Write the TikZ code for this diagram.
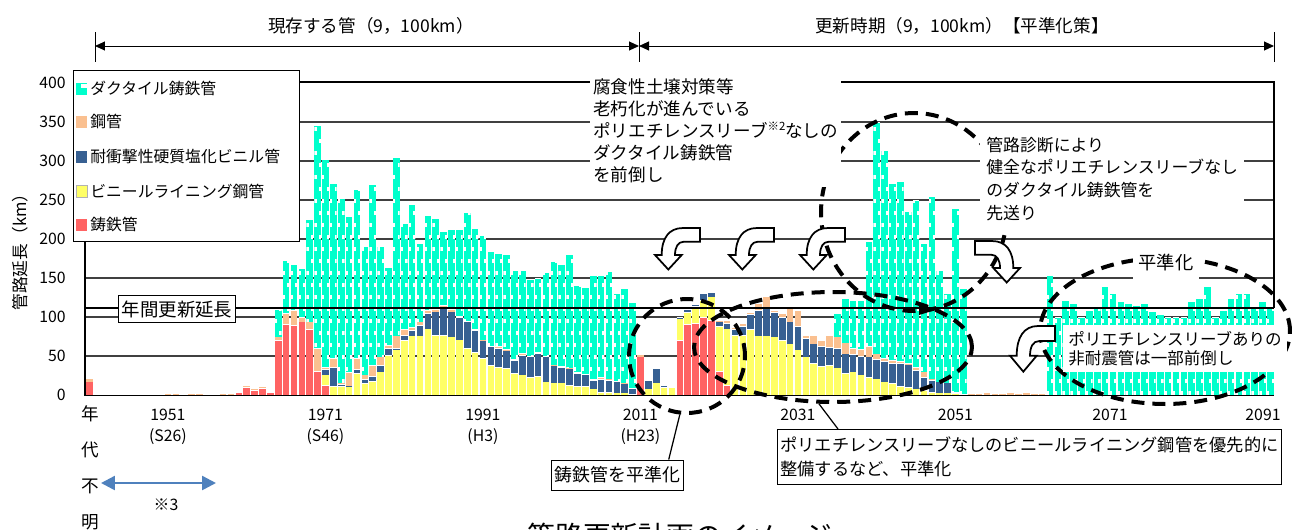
\documentclass[tikz,border=0pt]{standalone}
\usepackage{fontspec}
\setmainfont{Noto Sans CJK JP}
\usepackage{tikz}
\usetikzlibrary{shapes.geometric, arrows.meta}

\definecolor{ductile}{RGB}{0,255,204}
\definecolor{steelp}{RGB}{250,192,144}
\definecolor{pvc}{RGB}{55,96,146}
\definecolor{vlp}{RGB}{255,255,102}
\definecolor{castiron}{RGB}{255,99,99}
\definecolor{gridgray}{RGB}{64,64,64}
\definecolor{arrowblue}{RGB}{79,129,189}

% one stacked segment of a bar: colour, bottom, top, value
\newcommand{\barseg}[4]{%
  \ifdim#4pt>0pt
    \fill[#1] (\xa,#2) rectangle (\xb,#3);
    \draw[white, line width=0.012cm] (\xa,#3) -- (\xb,#3);
  \fi}

\tikzset{
  bendarrow/.pic={
    \draw[fill=white, line width=0.035cm] (47,0) -- (30,0)
      .. controls (16,0) and (8.7,10) .. (8.7,27) -- (2,27) -- (15.3,41.5)
      -- (28.7,27) -- (22,27) .. controls (22,19) and (25,13.7) .. (31,13.7)
      -- (47,13.7) -- cycle;
  }
}

\begin{document}
\begin{tikzpicture}[x=0.02cm, y=-0.02cm,
  gridline/.style={draw=gridgray, line width=0.025cm},
  ticklabel/.style={font=\fontsize{9}{10}\selectfont, inner sep=0},
  legtext/.style={font=\fontsize{9}{10}\selectfont, inner sep=0, anchor=west},
  annot/.style={font=\fontsize{10}{12}\selectfont},
  textbox/.style={fill=white, align=left, font=\fontsize{10}{12.5}\selectfont},
  framebox/.style={draw, fill=white, line width=0.02cm, inner sep=0.06cm},
  dashell/.style={ellipse, draw, line width=0.08cm, dash pattern=on 0.26cm off 0.16cm, inner sep=0},
  callout/.style={line width=0.025cm},
  tealmark/.style={white, line width=0.045cm, dash pattern=on 0.08cm off 0.4cm},
  dimarrow/.style={line width=0.02cm, arrows={Triangle[length=0.2cm,width=0.18cm]-Triangle[length=0.2cm,width=0.18cm]}},
]
\useasboundingbox[fill=white] (0,0) rectangle (1293,529);

% grid
\foreach \v in {50,100,...,350}
  \draw[gridline] (85,{395-0.78*\v}) -- (1274,{395-0.78*\v});

% bars: cast iron / lined steel / pvc / steel / ductile
\foreach \rv/\yv/\bv/\pv/\tv [count=\slot from 0] in {17/0/0/5/0,
  0/0/1.5/0/0, 0/0/1.5/0/0, 0/0/1.5/0/0, 0/0/1.5/0/0, 0/0/1.5/0/0, 0/0/1.5/0/0, 0/0/1.5/0/0, 0/0/1.5/0/0, 0/0/1.5/0/0,
  0/0/0/2/0, 0/0/0/2/0, 0/0/1.5/0/0, 0/0/0/2/0, 0/0/0/2/0, 0/0/1.5/0/0, 0/0/1.5/0/0, 0/0/0/2/0, 0/0/0/2/0,
  3.5/0/0/0/0, 10/0/0/3/0, 6/0/0/2.5/0, 8.5/0/0/3/0, 3.5/0/0/0/0,
  70/0/0/5/35, 91/0/0/14/68, 90/0/0/19/58, 94/0/0/6/62, 84/0/0/10/131, 31/0/0/29/286,
  13/13/7/3/266, 0/11/25/11/225, 0/11/3/2/236, 0/11/1/17/200, 0/28/5/14/217, 0/15/5/6/165, 0/18/6/14/232, 0/30/8/11/142, 0/51/9/4/100, 0/58/2/16/229,
  0/70/7/7/136, 0/76/7/4/157, 0/76/14/4/101, 0/85/20/4/122, 0/77/30/3/116, 0/77/34/4/95, 0/75/32/3/102, 0/71/29/1/111, 0/60/34/1/139, 0/55/28/1/130,
  0/47/23/1/134, 0/38/24/1/121, 0/36/24/3/119, 0/34/23/2/122, 0/28/17/1/114, 0/26/25/3/106, 0/23/26/1/98, 0/24/30/1/95, 0/17/32/1/107, 0/16/22/1/133,
  0/16/20/1/131, 0/13/21/1/146, 0/11/17/1/112, 0/11/15/1/111, 0/8/11/1/134, 0/4/16/3/131, 0/4/15/2/138, 0/3/14/1/113, 0/3/12/1/121, 0/1/8/0/110,
  49/0/0/3/0, 0/8/11/0/0, 0/16/18/0/0, 0/10/3/0/0, 0/10/0/0/0, 70/28/2/0/0, 91/15/4/0/0, 92/22/2/0/0, 100/22/8/0/0, 96/30/6/0/0,
  31/57/6/2/0, 13/72/7/4/0, 0/77/7/3/0, 0/77/11/4/0, 0/84/20/2/0, 0/76/33/8/0, 0/76/35/15/0, 0/75/31/3/0, 0/70/30/5/0, 0/66/28/20/0,
  0/58/30/21/0, 0/49/24/4/0, 0/41/25/10/0, 0/37/26/7/0, 0/38/23/16/0, 0/35/25/15/30, 0/28/25/14/57, 0/30/22/8/61, 0/26/24/9/62, 0/23/26/14/134,
  0/21/25/7/297, 0/17/26/4/267, 0/15/26/4/227, 0/11/30/2/231, 0/10/29/2/194, 0/8/24/4/213, 0/6/17/7/164, 0/4/15/2/234, 0/3/14/0/143, 0/3/13/0/114,
  0/2/2/0/235, 0/0/1/0/136, 0/0/0/2/0, 0/0/0/2/0, 0/0/0/3/0, 0/0/0/2/0, 0/0/0/2/0, 0/0/0/4/0, 0/0/0/2/0, 0/0/0/3/0,
  0/0/0/2/0, 0/0/0/2/0, 0/0/0/0/154, 0/0/0/0/100, 0/0/0/0/122, 0/0/0/0/117, 0/0/0/0/100, 0/0/0/0/108, 0/0/0/0/113, 0/0/0/0/139,
  0/0/0/0/130, 0/0/0/0/120, 0/0/0/0/117, 0/0/0/0/115, 0/0/0/0/117, 0/0/0/0/107, 0/0/0/0/103, 0/0/0/0/100, 0/0/0/0/100, 0/0/0/0/100,
  0/0/0/0/120, 0/0/0/0/124, 0/0/0/0/139, 0/0/0/0/100, 0/0/0/0/109, 0/0/0/0/124, 0/0/0/0/130, 0/0/0/0/130, 0/0/0/0/113, 0/0/0/0/120,
  0/0/0/0/111} {
  \pgfmathsetmacro\xa{85.9+\slot*7.875}
  \pgfmathsetmacro\xb{\xa+6.7}
  \pgfmathsetmacro\ya{395-0.78*\rv}
  \pgfmathsetmacro\yb{\ya-0.78*\yv}
  \pgfmathsetmacro\yc{\yb-0.78*\bv}
  \pgfmathsetmacro\yd{\yc-0.78*\pv}
  \pgfmathsetmacro\ye{\yd-0.78*\tv}
  \barseg{castiron}{395}{\ya}{\rv}
  \barseg{vlp}{\ya}{\yb}{\yv}
  \barseg{pvc}{\yb}{\yc}{\bv}
  \barseg{steelp}{\yc}{\yd}{\pv}
  \barseg{ductile}{\yd}{\ye}{\tv}
  \ifdim\tv pt>0pt
    \begin{scope}
      \clip (\xa,\yd) rectangle (\xb,\ye);
      \draw[tealmark] ({\xa+1.1},395) -- ({\xa+1.1},80);
      \draw[tealmark, dash phase=0.24cm] ({\xb-1.1},395) -- ({\xb-1.1},80);
    \end{scope}
  \fi
}

% axes and frame
\draw[line width=0.05cm] (85,82) -- (1274,82) -- (1274,308);
\draw[line width=0.04cm] (85,82) -- (85,396);
\draw[line width=0.03cm] (85,395.5) -- (1274,395.5);
\draw[line width=0.05cm] (85,308) -- (1274,308);

\foreach \v in {0,50,...,400}
  \node[ticklabel, anchor=east] (ylab\v) at (66,{395-0.78*\v}) {\v};
\foreach \yr/\era/\xx in {1951/(S26)/167.9, 1971/(S46)/325.4, 1991/(H3)/482.9, 2011/(H23)/640.4} {
  \node[ticklabel] (xlab\yr) at (\xx,415) {\yr};
  \node[ticklabel] (era\yr) at (\xx,437) {\era};
}
\foreach \yr/\xx in {2031/797.9, 2051/955.4, 2071/1110, 2091/1263}
  \node[ticklabel] (xlab\yr) at (\xx,415) {\yr};

\node[annot, rotate=90, font=\fontsize{9.5}{11}\selectfont] (ytitle) at (20,248) {管路延長（km）};
\node[annot, align=center, font=\fontsize{10}{20.4}\selectfont] (unknownyr) at (90,468) {年\\代\\不\\明};
\coordinate (unkL) at (101,483);
\coordinate (unkR) at (216,483);
\draw[arrowblue, line width=0.05cm, arrows={Triangle[length=0.28cm,width=0.28cm]-Triangle[length=0.28cm,width=0.28cm]}] (unkL) -- (unkR);
\node[ticklabel] (note3) at (166,505) {※3};

% period arrows
\node[annot] (existlab) at (371,26) {現存する管（9，100km）};
\node[annot] (renewlab) at (962,26) {更新時期（9，100km）【平準化策】};
\coordinate (dimL) at (95,46);
\coordinate (dimM) at (639,46);
\coordinate (dimR) at (1274,46);
\foreach \c in {dimL,dimM,dimR}
  \draw[line width=0.02cm] (\c) ++(0,-14) -- ++(0,30);
\draw[dimarrow] (dimL) -- (dimM);
\draw[dimarrow] (dimM) -- (dimR);

% dashed groups
\node[dashell, minimum width=2.32cm, minimum height=2.28cm] (ellA) at (687,356) {};
\node[dashell, minimum width=5.56cm, minimum height=2.2cm] (ellB) at (833,347) {};
\node[dashell, minimum width=3.72cm, minimum height=3.96cm] (ellC) at (914,212) {};
\node[dashell, minimum width=5cm, minimum height=2.92cm] (ellD) at (1165,331) {};
\fill (919,304) -- (937,309.5) -- (919,315) -- cycle;

% text boxes
\node[textbox, anchor=north west, inner xsep=0.06cm, inner ysep=0.1cm] (forward) at (590,73)
  {腐食性土壌対策等\\老朽化が進んでいる\\ポリエチレンスリーブ\raisebox{0.35em}{\fontsize{6.5}{7}\selectfont ※2}なしの\\ダクタイル鋳鉄管\\を前倒し};
\node[textbox, font=\fontsize{9.6}{13}\selectfont, anchor=north west, inner xsep=0.12cm, inner ysep=0.15cm] (postpone) at (980,129)
  {管路診断により\\健全なポリエチレンスリーブなし\\のダクタイル鋳鉄管を\\先送り};
\node[textbox, font=\fontsize{10.4}{12}\selectfont, minimum width=1.32cm, minimum height=0.7cm] (level) at (1166,263) {平準化};
\node[textbox, font=\fontsize{9.4}{10.8}\selectfont, anchor=north west, inner xsep=0.1cm, inner ysep=0.12cm] (partial) at (1063,325)
  {ポリエチレンスリーブありの\\非耐震管は一部前倒し};
\node[framebox, font=\fontsize{10.5}{12}\selectfont, minimum height=0.55cm] (renewal) at (177,309) {年間更新延長};
\node[framebox, font=\fontsize{10.2}{12}\selectfont, minimum height=0.6cm] (castlevel) at (617.5,475) {鋳鉄管を平準化};
\node[framebox, font=\fontsize{9.8}{14}\selectfont, anchor=north west, align=left, inner ysep=0.14cm] (vlplevel) at (777,429)
  {ポリエチレンスリーブなしのビニールライニング鋼管を優先的に\\整備するなど、平準化};
\draw[callout] (castlevel.north east) ++(-15,0) -- (ellA.-97);
\draw[callout] (vlplevel.north west) ++(61,0) -- (ellB.-104);

% bent arrows
\pic (bendA) at (653,228) {bendarrow};
\pic (bendB) at (727,228) {bendarrow};
\pic (bendC) at (798,228) {bendarrow};
\pic[xscale=-1] (bendD) at (1022,241) {bendarrow};
\pic[yscale=1.1] (bendE) at (1008,326) {bendarrow};

% legend
\node[draw, fill=white, line width=0.02cm, minimum width=4.52cm, minimum height=3.43cm, anchor=north west, inner sep=0] (legend) at (72.6,70) {};
\foreach \c/\t/\yy [count=\k] in {ductile/ダクタイル鋳鉄管/88.5, steelp/鋼管/121.5, pvc/耐衝撃性硬質塩化ビニル管/156.5, vlp/ビニールライニング鋼管/191.5, castiron/鋳鉄管/224.5} {
  \fill[\c] (76,\yy-6) rectangle (87,\yy+6);
  \node[legtext] (leg\k) at (90,\yy) {\t};
}
\draw[gray!60, line width=0.02cm] (76,185.5) rectangle (87,197.5);
\fill[white] (81,84) rectangle (87,88);

\node[font=\fontsize{15.8}{18}\selectfont, anchor=base] (charttitle) at (680,546) {管路更新計画のイメージ};
\end{tikzpicture}
\end{document}
